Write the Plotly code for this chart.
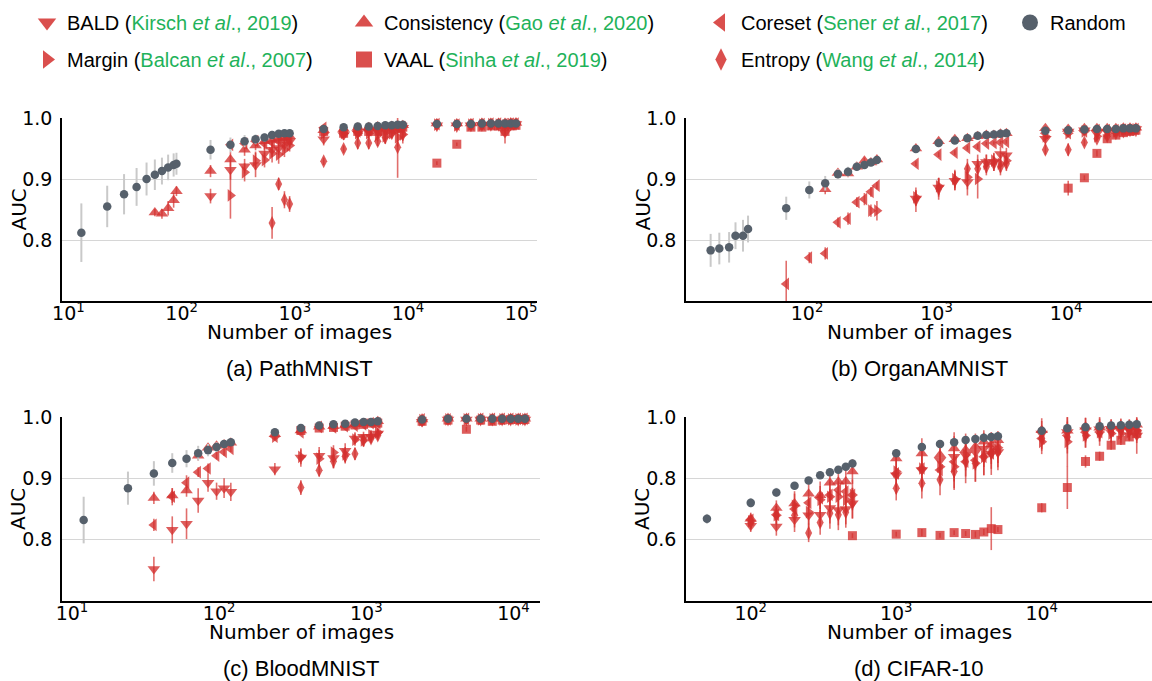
import plotly.graph_objects as go

# ---------------- data ----------------
METHODS = ["BALD", "Consistency", "Coreset", "Margin", "VAAL", "Entropy"]
AUTHORS = {"BALD": ("Kirsch", 2019), "Consistency": ("Gao", 2020), "Coreset": ("Sener", 2017),
           "Margin": ("Balcan", 2007), "VAAL": ("Sinha", 2019), "Entropy": ("Wang", 2014)}
PANEL_TITLES = ["(a) PathMNIST", "(b) OrganAMNIST", "(c) BloodMNIST", "(d) CIFAR-10"]
X_TITLE = "Number of images"
Y_TITLE = "AUC"
X_TICKS = [10, 100, 1000, 10000, 100000]
X_TICKTEXT = ["10<sup>1</sup>", "10<sup>2</sup>", "10<sup>3</sup>", "10<sup>4</sup>", "10<sup>5</sup>"]
Y_TICKS_MED = [0.8, 0.9, 1.0]
Y_TICKS_CIFAR = [0.6, 0.8, 1.0]
N = None

# (a) PathMNIST
PATH_X = [13, 22, 31, 40, 49, 58, 67, 76, 85, 90,
          180, 270, 360, 450, 540, 630, 720, 810, 900,
          1800, 2700, 3600, 4500, 5400, 6300, 7200, 8100, 9000,
          18000, 27000, 36000, 45000, 54000, 63000, 72000, 81000, 90000]
PATH_RANDOM = [0.812, 0.855, 0.875, 0.887, 0.900, 0.907, 0.913, 0.919, 0.923, 0.925,
               0.948, 0.956, 0.962, 0.965, 0.968, 0.972, 0.974, 0.975, 0.975,
               0.982, 0.985, 0.986, 0.986, 0.987, 0.988, 0.988, 0.989, 0.989,
               0.990, 0.990, 0.990, 0.991, 0.991, 0.991, 0.991, 0.991, 0.991]
PATH_RANDOM_ERR = [0.048, 0.034, 0.033, 0.031, 0.027, 0.025, 0.022, 0.021, 0.019, 0.018,
                   0.016, 0.012, 0.010, 0.008, 0.007, 0.007, 0.006, 0.006, 0.005,
                   0.005, 0.004, 0.004, 0.003, 0.003, 0.003, 0.003, 0.003, 0.003,
                   0.003, 0.003, 0.002, 0.002, 0.002, 0.002, 0.002, 0.002, 0.002]
PATH_BALD = [N, N, N, N, N, N, N, N, N, N,
             0.872, 0.915, 0.921, 0.923, 0.942, 0.948, 0.951, 0.956, 0.962,
             0.965, 0.972, 0.975, 0.978, 0.978, 0.980, 0.982, 0.983, 0.984,
             0.988, 0.988, 0.988, 0.989, 0.989, 0.989, 0.976, 0.989, 0.990]
PATH_BALD_ERR = [0, 0, 0, 0, 0, 0, 0, 0, 0, 0,
                 0.012, 0.016, 0.012, 0.020, 0.015, 0.012, 0.012, 0.010, 0.010,
                 0.010, 0.008, 0.008, 0.006, 0.006, 0.006, 0.006, 0.006, 0.005,
                 0.005, 0.005, 0.004, 0.004, 0.004, 0.004, 0.018, 0.004, 0.004]
PATH_CONS = [N, N, N, N, N, 0.845, 0.843, 0.852, 0.865, 0.880,
             0.913, 0.932, 0.948, 0.955, 0.962, 0.964, 0.966, 0.968, 0.970,
             0.980, 0.982, 0.984, 0.985, 0.986, 0.986, 0.987, 0.987, 0.988,
             0.991, 0.991, 0.991, 0.992, 0.992, 0.992, 0.992, 0.992, 0.992]
PATH_CONS_ERR = [0, 0, 0, 0, 0, 0.006, 0.008, 0.012, 0.012, 0.008,
                 0.010, 0.012, 0.010, 0.008, 0.008, 0.008, 0.006, 0.006, 0.006,
                 0.005, 0.004, 0.004, 0.004, 0.004, 0.004, 0.003, 0.003, 0.003,
                 0.003, 0.003, 0.003, 0.003, 0.003, 0.003, 0.003, 0.003, 0.003]
PATH_CORESET = [N, N, N, N, N, N, N, N, N, N,
                N, 0.956, 0.958, 0.962, 0.958, 0.960, 0.962, 0.963, 0.965,
                0.984, 0.978, 0.978, 0.980, 0.981, 0.982, 0.983, 0.984, 0.985,
                0.990, 0.989, 0.990, 0.990, 0.991, 0.991, 0.990, 0.991, 0.991]
PATH_CORESET_ERR = [0, 0, 0, 0, 0, 0, 0, 0, 0, 0,
                    0, 0.008, 0.008, 0.008, 0.010, 0.008, 0.008, 0.007, 0.007,
                    0.005, 0.006, 0.006, 0.005, 0.005, 0.005, 0.004, 0.004, 0.004,
                    0.003, 0.003, 0.003, 0.003, 0.003, 0.003, 0.003, 0.003, 0.003]
PATH_MARGIN = [N, N, N, N, N, N, N, N, N, N,
               N, 0.873, 0.911, 0.930, 0.931, 0.942, 0.940, 0.948, 0.955,
               0.975, 0.975, 0.975, 0.975, 0.972, 0.970, 0.975, 0.968, 0.973,
               0.989, 0.988, 0.989, 0.989, 0.990, 0.989, 0.988, 0.990, 0.990]
PATH_MARGIN_ERR = [0, 0, 0, 0, 0, 0, 0, 0, 0, 0,
                   0, 0.038, 0.015, 0.015, 0.012, 0.015, 0.015, 0.012, 0.010,
                   0.008, 0.008, 0.010, 0.008, 0.010, 0.012, 0.008, 0.015, 0.010,
                   0.004, 0.005, 0.004, 0.004, 0.004, 0.004, 0.006, 0.004, 0.004]
PATH_VAAL = [N, N, N, N, N, N, N, N, N, N,
             N, N, N, N, N, N, N, N, N,
             0.978, 0.975, 0.978, 0.978, 0.978, 0.980, 0.982, 0.983, 0.985,
             0.926, 0.957, 0.985, 0.985, 0.987, 0.987, 0.978, 0.987, 0.988]
PATH_VAAL_ERR = [0, 0, 0, 0, 0, 0, 0, 0, 0, 0,
                 0, 0, 0, 0, 0, 0, 0, 0, 0,
                 0.006, 0.006, 0.006, 0.005, 0.005, 0.005, 0.005, 0.004, 0.004,
                 0.003, 0.003, 0.004, 0.004, 0.003, 0.003, 0.006, 0.003, 0.003]
PATH_ENTROPY = [N, N, N, N, N, N, N, N, N, N,
                N, N, N, N, N, 0.828, 0.892, 0.866, 0.859,
                0.929, 0.949, 0.959, 0.959, 0.962, 0.968, 0.975, 0.952, 0.973,
                0.988, 0.987, 0.988, 0.989, 0.989, 0.989, 0.988, 0.990, 0.990]
PATH_ENTROPY_ERR = [0, 0, 0, 0, 0, 0, 0, 0, 0, 0,
                    0, 0, 0, 0, 0, 0.026, 0.010, 0.014, 0.013,
                    0.006, 0.006, 0.010, 0.010, 0.008, 0.010, 0.008, 0.050, 0.015,
                    0.004, 0.004, 0.004, 0.004, 0.004, 0.004, 0.005, 0.004, 0.004]

# (b) OrganAMNIST
ORGAN_X = [18, 21, 25, 28, 32, 35,
           69, 104, 138, 173, 207, 242, 277, 311, 346,
           692, 1037, 1383, 1729, 2075, 2421, 2767, 3112, 3458,
           6916, 10374, 13832, 17290, 20749, 24207, 27665, 31123, 34581]
ORGAN_RANDOM = [0.783, 0.786, 0.788, 0.807, 0.807, 0.818,
                0.852, 0.882, 0.893, 0.908, 0.912, 0.920, 0.923, 0.927, 0.931,
                0.949, 0.959, 0.963, 0.967, 0.971, 0.972, 0.973, 0.974, 0.975,
                0.979, 0.980, 0.981, 0.982, 0.982, 0.982, 0.983, 0.983, 0.983]
ORGAN_RANDOM_ERR = [0.027, 0.026, 0.025, 0.022, 0.026, 0.022,
                    0.019, 0.014, 0.012, 0.008, 0.008, 0.007, 0.006, 0.006, 0.005,
                    0.005, 0.004, 0.004, 0.003, 0.003, 0.003, 0.003, 0.003, 0.003,
                    0.003, 0.002, 0.002, 0.002, 0.002, 0.002, 0.002, 0.002, 0.002]
ORGAN_BALD = [N, N, N, N, N, N,
              N, N, N, N, N, N, N, N, N,
              0.868, 0.886, 0.897, 0.895, 0.925, 0.928, 0.928, 0.941, 0.939,
              0.966, 0.978, 0.980, 0.975, 0.978, 0.980, 0.981, 0.981, 0.982]
ORGAN_BALD_ERR = [0, 0, 0, 0, 0, 0,
                  0, 0, 0, 0, 0, 0, 0, 0, 0,
                  0.012, 0.015, 0.015, 0.022, 0.015, 0.012, 0.015, 0.012, 0.012,
                  0.010, 0.006, 0.005, 0.006, 0.005, 0.004, 0.004, 0.004, 0.004]
ORGAN_CONS = [N, N, N, N, N, N,
              N, N, 0.883, 0.910, 0.909, 0.920, 0.930, 0.927, 0.932,
              0.950, 0.962, 0.965, 0.967, 0.970, 0.972, 0.972, 0.974, 0.975,
              0.983, 0.982, 0.983, 0.983, 0.983, 0.983, 0.984, 0.984, 0.984]
ORGAN_CONS_ERR = [0, 0, 0, 0, 0, 0,
                  0, 0, 0.008, 0.006, 0.006, 0.006, 0.005, 0.005, 0.005,
                  0.004, 0.004, 0.004, 0.003, 0.003, 0.003, 0.003, 0.003, 0.003,
                  0.003, 0.003, 0.002, 0.002, 0.002, 0.002, 0.002, 0.002, 0.002]
ORGAN_CORESET = [N, N, N, N, N, N,
                 0.728, 0.771, 0.778, 0.829, 0.835, 0.862, 0.867, 0.879, 0.889,
                 0.925, 0.940, 0.943, 0.951, 0.953, 0.958, 0.959, 0.960, 0.961,
                 0.975, 0.975, 0.978, 0.980, 0.980, 0.980, 0.981, 0.981, 0.982]
ORGAN_CORESET_ERR = [0, 0, 0, 0, 0, 0,
                     0.038, 0.009, 0.010, 0.008, 0.010, 0.008, 0.010, 0.008, 0.006,
                     0.004, 0.004, 0.004, 0.004, 0.004, 0.003, 0.003, 0.003, 0.003,
                     0.003, 0.003, 0.003, 0.002, 0.002, 0.002, 0.002, 0.002, 0.002]
ORGAN_MARGIN = [N, N, N, N, N, N,
                N, N, N, N, N, N, N, 0.848, 0.848,
                0.870, 0.888, 0.900, 0.903, 0.900, 0.925, 0.930, 0.925, 0.930,
                0.970, 0.975, 0.978, 0.970, 0.975, 0.978, 0.980, 0.980, 0.981]
ORGAN_MARGIN_ERR = [0, 0, 0, 0, 0, 0,
                    0, 0, 0, 0, 0, 0, 0, 0.010, 0.016,
                    0.012, 0.014, 0.015, 0.020, 0.032, 0.015, 0.012, 0.014, 0.012,
                    0.006, 0.006, 0.005, 0.006, 0.005, 0.004, 0.004, 0.004, 0.004]
ORGAN_VAAL = [N, N, N, N, N, N,
              N, N, N, N, N, N, N, N, N,
              N, N, N, N, N, N, N, N, N,
              N, 0.885, 0.902, 0.942, 0.966, 0.972, 0.976, 0.978, 0.980]
ORGAN_VAAL_ERR = [0, 0, 0, 0, 0, 0,
                  0, 0, 0, 0, 0, 0, 0, 0, 0,
                  0, 0, 0, 0, 0, 0, 0, 0, 0,
                  0, 0.012, 0.004, 0.005, 0.004, 0.004, 0.003, 0.003, 0.003]
ORGAN_ENTROPY = [N, N, N, N, N, N,
                 N, N, N, N, N, N, N, N, N,
                 0.866, 0.884, 0.897, 0.917, 0.917, 0.920, 0.925, 0.920, 0.925,
                 0.948, 0.948, 0.960, 0.966, 0.970, 0.975, 0.978, 0.980, 0.980]
ORGAN_ENTROPY_ERR = [0, 0, 0, 0, 0, 0,
                     0, 0, 0, 0, 0, 0, 0, 0, 0,
                     0.020, 0.018, 0.016, 0.016, 0.015, 0.014, 0.012, 0.014, 0.012,
                     0.008, 0.010, 0.006, 0.005, 0.005, 0.004, 0.004, 0.003, 0.003]

# (c) BloodMNIST
BLOOD_X = [12, 24, 36, 48, 60, 72, 84, 96, 108, 120,
           239, 359, 478, 598, 718, 837, 957, 1076, 1196,
           2392, 3588, 4784, 5980, 7175, 8371, 9567, 10763, 11959]
BLOOD_RANDOM = [0.832, 0.884, 0.908, 0.925, 0.932, 0.941, 0.946, 0.951, 0.956, 0.959,
                0.975, 0.982, 0.986, 0.988, 0.989, 0.991, 0.992, 0.992, 0.993,
                0.996, 0.997, 0.997, 0.997, 0.997, 0.997, 0.997, 0.997, 0.997]
BLOOD_RANDOM_ERR = [0.038, 0.027, 0.020, 0.016, 0.014, 0.012, 0.010, 0.008, 0.006, 0.006,
                    0.004, 0.004, 0.003, 0.003, 0.003, 0.002, 0.002, 0.002, 0.002,
                    0.002, 0.001, 0.001, 0.001, 0.001, 0.001, 0.001, 0.001, 0.001]
BLOOD_BALD = [N, N, 0.752, 0.816, 0.826, 0.864, 0.893, 0.879, 0.884, 0.878,
              0.915, 0.934, 0.937, 0.933, 0.945, 0.965, 0.968, 0.968, 0.973,
              0.992, 0.996, 0.996, 0.996, 0.996, 0.996, 0.996, 0.996, 0.996]
BLOOD_BALD_ERR = [0, 0, 0.020, 0.022, 0.025, 0.020, 0.015, 0.014, 0.016, 0.015,
                  0.010, 0.015, 0.014, 0.016, 0.012, 0.010, 0.008, 0.010, 0.008,
                  0.004, 0.002, 0.002, 0.002, 0.002, 0.002, 0.002, 0.002, 0.002]
BLOOD_CONS = [N, N, 0.868, 0.872, 0.880, 0.937, 0.950, 0.953, 0.955, 0.958,
              0.972, 0.978, 0.984, 0.985, 0.986, 0.988, 0.990, 0.990, 0.993,
              0.996, 0.997, 0.997, 0.997, 0.997, 0.997, 0.997, 0.997, 0.997]
BLOOD_CONS_ERR = [0, 0, 0.010, 0.012, 0.010, 0.008, 0.006, 0.005, 0.005, 0.005,
                  0.004, 0.004, 0.003, 0.003, 0.003, 0.002, 0.002, 0.002, 0.002,
                  0.002, 0.001, 0.001, 0.001, 0.001, 0.001, 0.001, 0.001, 0.001]
BLOOD_CORESET = [N, N, 0.824, 0.870, 0.893, 0.910, 0.916, 0.937, 0.943, 0.948,
                 0.968, 0.975, 0.984, 0.983, 0.985, 0.986, 0.988, 0.990, 0.990,
                 0.996, 0.996, 0.997, 0.997, 0.997, 0.997, 0.997, 0.997, 0.997]
BLOOD_CORESET_ERR = [0, 0, 0.010, 0.014, 0.012, 0.008, 0.008, 0.006, 0.006, 0.005,
                     0.004, 0.004, 0.003, 0.003, 0.003, 0.003, 0.002, 0.002, 0.002,
                     0.002, 0.001, 0.001, 0.001, 0.001, 0.001, 0.001, 0.001, 0.001]
BLOOD_MARGIN = [N, N, N, N, N, N, N, N, N, N,
                0.968, 0.935, 0.932, 0.942, 0.939, 0.963, 0.962, 0.970, 0.975,
                0.995, 0.996, 0.996, 0.996, 0.996, 0.996, 0.996, 0.996, 0.996]
BLOOD_MARGIN_ERR = [0, 0, 0, 0, 0, 0, 0, 0, 0, 0,
                    0.006, 0.012, 0.014, 0.012, 0.012, 0.010, 0.010, 0.008, 0.007,
                    0.003, 0.002, 0.002, 0.002, 0.002, 0.002, 0.002, 0.002, 0.002]
BLOOD_VAAL = [N, N, N, N, N, N, N, N, N, N,
              N, 0.978, 0.982, 0.983, 0.985, 0.987, 0.988, 0.990, 0.990,
              0.993, 0.995, 0.980, 0.995, 0.993, 0.995, 0.996, 0.996, 0.996]
BLOOD_VAAL_ERR = [0, 0, 0, 0, 0, 0, 0, 0, 0, 0,
                  0, 0.004, 0.004, 0.003, 0.003, 0.003, 0.003, 0.002, 0.002,
                  0.002, 0.002, 0.004, 0.002, 0.002, 0.002, 0.002, 0.002, 0.002]
BLOOD_ENTROPY = [N, N, N, N, N, N, N, N, N, N,
                 N, 0.885, 0.913, 0.928, 0.936, 0.940, 0.962, 0.965, 0.970,
                 0.995, 0.996, 0.996, 0.996, 0.996, 0.996, 0.996, 0.996, 0.996]
BLOOD_ENTROPY_ERR = [0, 0, 0, 0, 0, 0, 0, 0, 0, 0,
                     0, 0.012, 0.010, 0.012, 0.012, 0.010, 0.010, 0.008, 0.008,
                     0.003, 0.002, 0.002, 0.002, 0.002, 0.002, 0.002, 0.002, 0.002]

# (d) CIFAR-10
CIFAR_X = [50, 100, 150, 200, 250, 300, 350, 400, 450, 500,
           1000, 1500, 2000, 2500, 3000, 3500, 4000, 4500, 5000,
           10000, 15000, 20000, 25000, 30000, 35000, 40000, 45000]
CIFAR_RANDOM = [0.668, 0.720, 0.754, 0.776, 0.793, 0.810, 0.820, 0.828, 0.838, 0.848,
                0.882, 0.902, 0.912, 0.918, 0.925, 0.928, 0.932, 0.935, 0.937,
                0.955, 0.963, 0.967, 0.970, 0.972, 0.973, 0.975, 0.976]
CIFAR_RANDOM_ERR = [0.016, 0.016, 0.015, 0.012, 0.012, 0.010, 0.010, 0.010, 0.009, 0.008,
                    0.007, 0.006, 0.005, 0.005, 0.004, 0.004, 0.004, 0.004, 0.004,
                    0.003, 0.003, 0.003, 0.002, 0.002, 0.002, 0.002, 0.002]
CIFAR_BALD = [N, 0.645, 0.643, 0.665, 0.680, 0.681, 0.703, 0.697, 0.700, 0.719,
              0.810, 0.827, 0.859, 0.870, 0.876, 0.886, 0.897, 0.881, 0.886,
              0.946, 0.951, 0.957, 0.960, 0.962, 0.962, 0.960, 0.940]
CIFAR_BALD_ERR = [0, 0.020, 0.030, 0.040, 0.045, 0.040, 0.050, 0.050, 0.050, 0.050,
                  0.060, 0.070, 0.060, 0.080, 0.070, 0.060, 0.060, 0.070, 0.060,
                  0.050, 0.070, 0.040, 0.040, 0.030, 0.030, 0.030, 0.060]
CIFAR_CONS = [N, 0.668, 0.703, 0.718, 0.750, 0.745, 0.786, 0.789, 0.790, 0.822,
              0.865, 0.881, 0.876, 0.897, 0.892, 0.903, 0.919, 0.910, 0.924,
              0.957, 0.955, 0.968, 0.965, 0.968, 0.970, 0.968, 0.975]
CIFAR_CONS_ERR = [0, 0.020, 0.025, 0.040, 0.040, 0.045, 0.045, 0.040, 0.040, 0.040,
                  0.030, 0.050, 0.040, 0.040, 0.040, 0.035, 0.030, 0.035, 0.030,
                  0.030, 0.030, 0.030, 0.030, 0.025, 0.025, 0.025, 0.020]
CIFAR_CORESET = [N, 0.665, 0.681, 0.700, 0.720, 0.735, 0.746, 0.762, 0.757, 0.746,
                 0.816, 0.832, 0.827, 0.854, 0.854, 0.859, 0.870, 0.881, 0.897,
                 0.930, 0.940, 0.950, 0.951, 0.955, 0.958, 0.960, 0.962]
CIFAR_CORESET_ERR = [0, 0.015, 0.015, 0.020, 0.020, 0.020, 0.020, 0.020, 0.020, 0.020,
                     0.020, 0.020, 0.020, 0.020, 0.020, 0.020, 0.020, 0.020, 0.015,
                     0.015, 0.015, 0.015, 0.015, 0.015, 0.015, 0.015, 0.015]
CIFAR_MARGIN = [N, 0.660, 0.680, 0.710, 0.690, 0.730, 0.740, 0.740, 0.730, 0.746,
                0.822, 0.832, 0.838, 0.838, 0.876, 0.849, 0.870, 0.897, 0.900,
                0.919, 0.919, 0.940, 0.951, 0.946, 0.946, 0.951, 0.955]
CIFAR_MARGIN_ERR = [0, 0.020, 0.030, 0.040, 0.040, 0.045, 0.050, 0.050, 0.050, 0.050,
                    0.050, 0.060, 0.050, 0.070, 0.050, 0.060, 0.060, 0.050, 0.050,
                    0.040, 0.080, 0.040, 0.030, 0.030, 0.030, 0.030, 0.040]
CIFAR_VAAL = [N, N, N, N, N, N, N, N, N, 0.613,
              0.618, 0.623, 0.614, 0.623, 0.620, 0.617, 0.625, 0.636, 0.633,
              0.704, 0.770, 0.855, 0.872, 0.908, 0.924, 0.935, 0.946]
CIFAR_VAAL_ERR = [0, 0, 0, 0, 0, 0, 0, 0, 0, 0.008,
                  0.008, 0.012, 0.008, 0.008, 0.008, 0.010, 0.010, 0.070, 0.008,
                  0.015, 0.070, 0.020, 0.015, 0.015, 0.015, 0.010, 0.010]
CIFAR_ENTROPY = [N, 0.655, 0.680, 0.680, 0.622, 0.656, 0.686, 0.681, 0.689, 0.719,
                 0.768, 0.784, 0.795, 0.822, 0.854, 0.849, 0.870, 0.881, 0.886,
                 0.930, 0.935, 0.940, 0.946, 0.950, 0.955, 0.955, 0.958]
CIFAR_ENTROPY_ERR = [0, 0.020, 0.030, 0.040, 0.030, 0.040, 0.050, 0.050, 0.050, 0.050,
                     0.040, 0.050, 0.050, 0.060, 0.070, 0.060, 0.060, 0.050, 0.050,
                     0.040, 0.040, 0.040, 0.040, 0.030, 0.030, 0.030, 0.030]

PANELS = [
    dict(x=PATH_X, random=PATH_RANDOM, random_err=PATH_RANDOM_ERR,
         series={"BALD": (PATH_BALD, PATH_BALD_ERR), "Consistency": (PATH_CONS, PATH_CONS_ERR),
                 "Coreset": (PATH_CORESET, PATH_CORESET_ERR), "Margin": (PATH_MARGIN, PATH_MARGIN_ERR),
                 "VAAL": (PATH_VAAL, PATH_VAAL_ERR), "Entropy": (PATH_ENTROPY, PATH_ENTROPY_ERR)}),
    dict(x=ORGAN_X, random=ORGAN_RANDOM, random_err=ORGAN_RANDOM_ERR,
         series={"BALD": (ORGAN_BALD, ORGAN_BALD_ERR), "Consistency": (ORGAN_CONS, ORGAN_CONS_ERR),
                 "Coreset": (ORGAN_CORESET, ORGAN_CORESET_ERR), "Margin": (ORGAN_MARGIN, ORGAN_MARGIN_ERR),
                 "VAAL": (ORGAN_VAAL, ORGAN_VAAL_ERR), "Entropy": (ORGAN_ENTROPY, ORGAN_ENTROPY_ERR)}),
    dict(x=BLOOD_X, random=BLOOD_RANDOM, random_err=BLOOD_RANDOM_ERR,
         series={"BALD": (BLOOD_BALD, BLOOD_BALD_ERR), "Consistency": (BLOOD_CONS, BLOOD_CONS_ERR),
                 "Coreset": (BLOOD_CORESET, BLOOD_CORESET_ERR), "Margin": (BLOOD_MARGIN, BLOOD_MARGIN_ERR),
                 "VAAL": (BLOOD_VAAL, BLOOD_VAAL_ERR), "Entropy": (BLOOD_ENTROPY, BLOOD_ENTROPY_ERR)}),
    dict(x=CIFAR_X, random=CIFAR_RANDOM, random_err=CIFAR_RANDOM_ERR,
         series={"BALD": (CIFAR_BALD, CIFAR_BALD_ERR), "Consistency": (CIFAR_CONS, CIFAR_CONS_ERR),
                 "Coreset": (CIFAR_CORESET, CIFAR_CORESET_ERR), "Margin": (CIFAR_MARGIN, CIFAR_MARGIN_ERR),
                 "VAAL": (CIFAR_VAAL, CIFAR_VAAL_ERR), "Entropy": (CIFAR_ENTROPY, CIFAR_ENTROPY_ERR)}),
]

# ---------------- style ----------------
W, H = 1152, 681
RED = "rgba(212,48,46,0.78)"
RED_ERR = "rgba(212,48,46,0.7)"
GRAY = "#56606b"
GRAY_ERR = "#c9c9c9"
GREEN = "#1fb25a"
SYMBOLS = {"BALD": "triangle-down", "Consistency": "triangle-up", "Coreset": "triangle-left",
           "Margin": "triangle-right", "VAAL": "square", "Entropy": "diamond-tall"}
SIZES = {"BALD": 11, "Consistency": 11, "Coreset": 11, "Margin": 11, "VAAL": 9, "Entropy": 10}
AX_FONT = "DejaVu Sans"
CAP_FONT = "Liberation Sans"

# pixel geometry of each panel: (left, right, top, bottom), log-x range, y range, y ticks
GEOM = [
    ((62, 537, 118, 301), [0.943, 5.14], [0.7, 1.0], Y_TICKS_MED),
    ((686, 1152, 118, 301), [1.065, 4.663], [0.7, 1.0], Y_TICKS_MED),
    ((62, 540, 417, 601), [0.932, 4.18], [0.7, 1.0], Y_TICKS_MED),
    ((686, 1152, 417, 601), [1.555, 4.758], [0.4, 1.0], Y_TICKS_CIFAR),
]

fig = go.Figure()

for i, (panel, geom) in enumerate(zip(PANELS, GEOM)):
    sfx = "" if i == 0 else str(i + 1)
    xa, ya = "x" + sfx, "y" + sfx
    for m in METHODS:
        ys, es = panel["series"][m]
        fig.add_trace(go.Scatter(
            x=panel["x"], y=ys, mode="markers", xaxis=xa, yaxis=ya, showlegend=False,
            marker=dict(symbol=SYMBOLS[m], size=SIZES[m], color=RED, line=dict(width=0)),
            error_y=dict(type="data", array=es, visible=True, color=RED_ERR, thickness=1.6, width=0),
            cliponaxis=False, hoverinfo="skip"))
    fig.add_trace(go.Scatter(
        x=panel["x"], y=panel["random"], mode="markers", xaxis=xa, yaxis=ya, showlegend=False,
        marker=dict(symbol="circle", size=8.5, color=GRAY, line=dict(width=0)),
        error_y=dict(type="data", array=panel["random_err"], visible=True, color=GRAY_ERR,
                     thickness=2, width=0),
        cliponaxis=False, hoverinfo="skip"))

    (l, r, t, b), xr, yr, yt = geom
    fig.layout["xaxis" + sfx] = dict(
        type="log", range=xr, domain=[l / W, r / W], anchor=ya, automargin=False,
        tickvals=X_TICKS, ticktext=X_TICKTEXT, ticks="", showgrid=False,
        showline=True, linecolor="black", linewidth=1.6, zeroline=False,
        tickfont=dict(family=AX_FONT, size=19, color="black"), ticklabelstandoff=-6)
    fig.layout["yaxis" + sfx] = dict(
        range=yr, domain=[1 - b / H, 1 - t / H], anchor=xa, automargin=False,
        tickvals=yt, ticktext=["%.1f" % v for v in yt], ticks="",
        showgrid=True, gridcolor="#d6d6d6", gridwidth=1.4,
        showline=True, linecolor="black", linewidth=1.6, zeroline=False,
        tickfont=dict(family=AX_FONT, size=19, color="black"), ticklabelstandoff=4)
    # axis titles
    fig.add_annotation(text=X_TITLE, xref="paper", yref="paper",
                       x=(l + r) / 2 / W, y=1 - (b + 31) / H, xanchor="center", yanchor="middle",
                       showarrow=False, font=dict(family=AX_FONT, size=20, color="black"))
    fig.add_annotation(text=Y_TITLE, xref="paper", yref="paper", textangle=-90,
                       x=(l - 44) / W, y=1 - (t + b) / 2 / H, xanchor="center", yanchor="middle",
                       showarrow=False, font=dict(family=AX_FONT, size=20, color="black"))
    # panel caption
    fig.add_annotation(text=PANEL_TITLES[i], xref="paper", yref="paper",
                       x=(l + r) / 2 / W, y=1 - (b + 67) / H, xanchor="center", yanchor="middle",
                       showarrow=False, font=dict(family=CAP_FONT, size=22, color="black"))

# ---------------- legends ----------------
LEGEND_COLUMNS = [["BALD", "Margin"], ["Consistency", "VAAL"], ["Coreset", "Entropy"], ["Random"]]
LEGEND_X = [27, 344, 701, 1010]

def label(m):
    if m == "Random":
        return "Random"
    a, yr = AUTHORS[m]
    return f"{m} (<span style='color:{GREEN}'>{a} <i>et al</i>., {yr}</span>)"

legend_layout = {}
for j, (col, lx) in enumerate(zip(LEGEND_COLUMNS, LEGEND_X)):
    lname = "legend" if j == 0 else "legend%d" % (j + 1)
    for m in col:
        is_rand = m == "Random"
        fig.add_trace(go.Scatter(
            x=[None], y=[None], mode="markers", name=label(m), legend=lname, legendgroup=m,
            marker=dict(symbol="circle" if is_rand else SYMBOLS[m], size=16,
                        color=GRAY if is_rand else "rgba(212,48,46,0.85)", line=dict(width=0)),
            showlegend=True))
    legend_layout[lname] = dict(x=lx / W, y=1 - 3 / H, xanchor="left", yanchor="top",
                                orientation="v", bgcolor="rgba(0,0,0,0)", tracegroupgap=8,
                                font=dict(family=CAP_FONT, size=20, color="black"),
                                itemsizing="trace")

fig.update_layout(width=W, height=H, margin=dict(l=0, r=0, t=0, b=0, autoexpand=False),
                  paper_bgcolor="white", plot_bgcolor="white", **legend_layout)

fig.write_html("out.html", config={"displayModeBar": False},
               post_script="document.body.style.margin='0';document.body.style.padding='0';"
                           "document.body.style.overflow='hidden';")
